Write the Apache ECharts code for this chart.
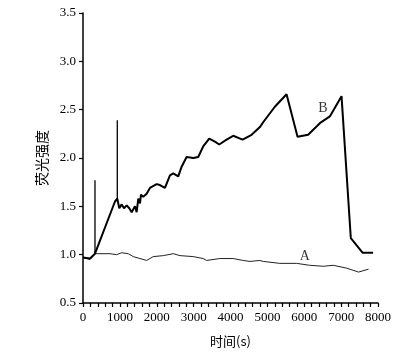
<!DOCTYPE html>
<html><head><meta charset="utf-8">
<script src="https://cdn.jsdelivr.net/npm/echarts@6/dist/echarts.min.js"></script>
<style>html,body{margin:0;padding:0;background:#fff}#c{width:413px;height:355px}</style>
</head><body><div id="c"></div>
<script>
// Curve B (main thick line): time (s), fluorescence intensity
const bTime = [0,190,325,350,867,930,984,1049,1111,1184,1255,1320,1363,1409,1455,1499,1545,1572,1634,1726,1816,1997,2087,2222,2358,2447,2583,2675,2810,2989,3125,3260,3423,3577,3694,3894,4073,4328,4572,4797,4886,5203,5520,5818,6106,6423,6694,7011,7263,7580,7867];
const bValue = [0.97,0.96,1.01,1.02,1.55,1.58,1.48,1.52,1.48,1.51,1.48,1.44,1.43,1.50,1.44,1.58,1.53,1.62,1.60,1.63,1.69,1.73,1.72,1.69,1.82,1.84,1.81,1.91,2.01,2.00,2.01,2.12,2.20,2.17,2.14,2.19,2.23,2.19,2.24,2.32,2.37,2.53,2.66,2.22,2.24,2.36,2.43,2.64,1.17,1.02,1.02];
// Spikes on curve B (thin vertical lines)
const spikeTime = [325, 930];
const spikeBase = [1.01, 1.55];
const spikeTop = [1.77, 2.39];
// Curve A (thin line)
const aTime = [0,190,325,461,732,913,1049,1228,1363,1545,1726,1905,2176,2447,2629,2989,3260,3352,3713,4073,4344,4526,4797,4886,5338,5790,6151,6514,6785,7155,7472,7743];
const aValue = [0.97,0.95,1.01,1.01,1.01,1.00,1.02,1.01,0.98,0.96,0.94,0.98,0.99,1.01,0.99,0.98,0.96,0.94,0.96,0.96,0.94,0.93,0.94,0.93,0.91,0.91,0.89,0.88,0.89,0.86,0.82,0.85];
// Curve labels
const curveNames = ['B', 'A'];
const curveLabelTime = [6504, 6016];
const curveLabelValue = [2.51, 0.98];
// Axis ticks
const xTicks = [0,1000,2000,3000,4000,5000,6000,7000,8000];
const yTicks = [0.5,1.0,1.5,2.0,2.5,3.0,3.5];

const zip = (xs, ys) => xs.map((x, i) => [x, ys[i]]);
const serif = 'Liberation Serif';
const cjk = 'Noto Sans CJK SC';

const series = [
  {type:'line', data: zip(aTime, aValue), showSymbol:false, symbol:'none',
   lineStyle:{color:'#222', width:1}, animation:false, z:2},
  {type:'line', data: zip(bTime, bValue), showSymbol:false, symbol:'none',
   lineStyle:{color:'#000', width:2}, animation:false, z:3}
];
spikeTime.forEach((t, i) => {
  series.push({type:'line', data:[[t, spikeBase[i]],[t, spikeTop[i]]], symbol:'none',
    lineStyle:{color:'#000', width:1.3}, animation:false, z:3});
});
series.push({type:'scatter', data: zip(curveLabelTime, curveLabelValue), symbolSize:0,
  label:{show:true, position:'inside', formatter:p => curveNames[p.dataIndex],
    fontFamily:serif, fontSize:14, color:'#000'}, animation:false, z:4});

const chart = echarts.init(document.getElementById('c'), null, {renderer:'canvas'});
chart.setOption({
  backgroundColor:'#fff',
  animation:false,
  grid:{left:83, right:35, top:13, bottom:52},
  xAxis:{type:'value', min:xTicks[0], max:xTicks[xTicks.length-1], interval:1000,
    name:'时间(s)', nameLocation:'middle', nameGap:32,
    nameTextStyle:{fontFamily:cjk, fontSize:13, color:'#000'},
    axisLine:{show:true, lineStyle:{color:'#000', width:1.5}},
    axisTick:{show:true, inside:false, length:4, lineStyle:{color:'#000', width:1.2}},
    minorTick:{show:true, splitNumber:5, length:4, lineStyle:{color:'#000', width:1.2}},
    axisLabel:{fontFamily:serif, fontSize:13, color:'#000', margin:8,
      formatter:v => String(v)},
    splitLine:{show:false}},
  yAxis:{type:'value', min:yTicks[0], max:yTicks[yTicks.length-1], interval:0.5,
    name:'荧光强度', nameLocation:'middle', nameGap:32, nameRotate:90,
    nameTextStyle:{fontFamily:cjk, fontSize:14, color:'#000'},
    axisLine:{show:true, lineStyle:{color:'#000', width:1.5}},
    axisTick:{show:true, inside:false, length:4, lineStyle:{color:'#000', width:1.2}},
    axisLabel:{fontFamily:serif, fontSize:13, color:'#000', margin:7,
      formatter:v => v.toFixed(1)},
    splitLine:{show:false}},
  series: series
});
</script></body></html>
